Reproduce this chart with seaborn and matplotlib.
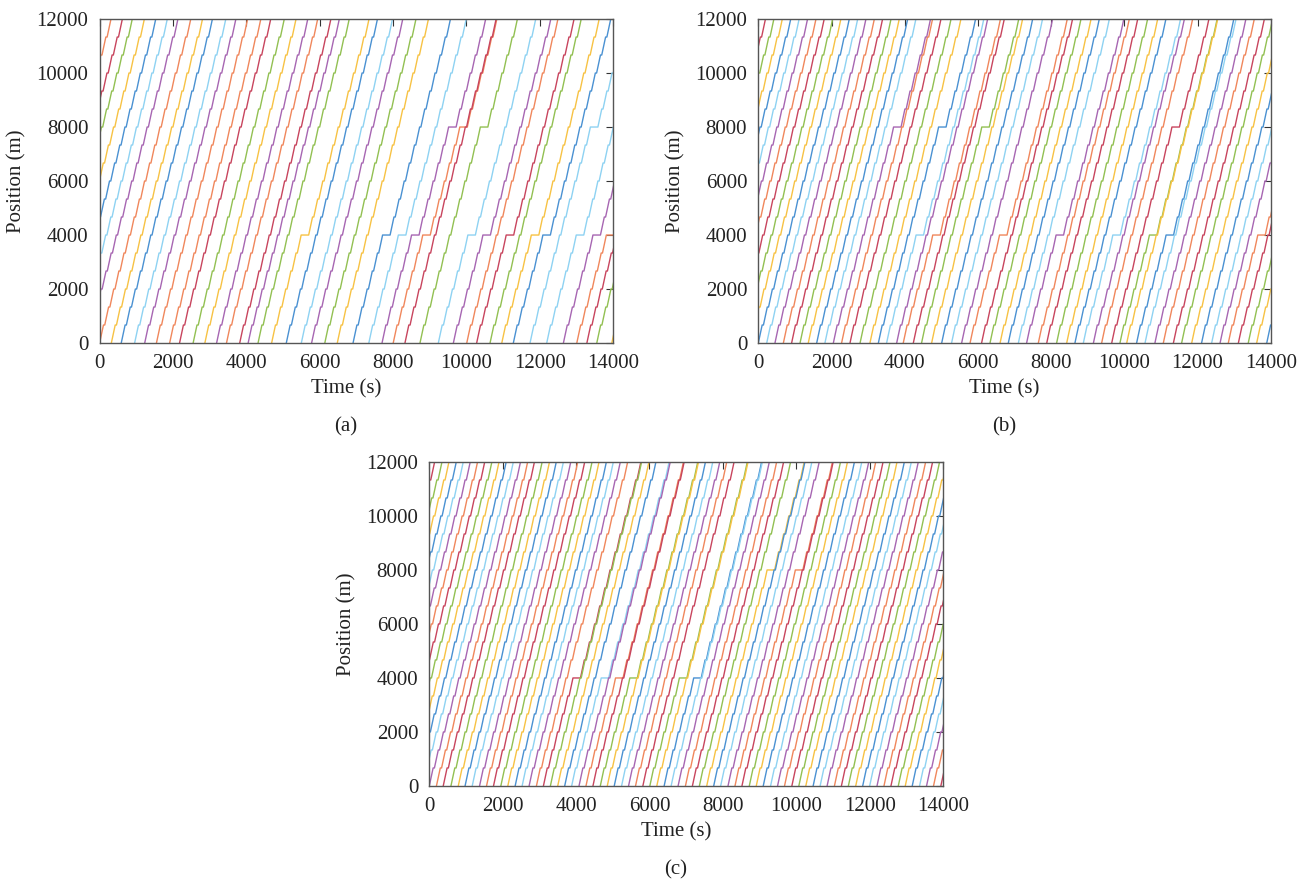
import pandas as pd
import matplotlib
matplotlib.use("Agg")
import matplotlib.pyplot as plt
import seaborn as sns

# stations along the line (m) and a common running profile (s)
STATIONS = [0, 667, 1333, 2000, 2667, 3333, 4000, 4667, 5333, 6000, 6667,
            7333, 8000, 8667, 9333, 10000, 10667, 11333, 12000]
RUN_TIME = 105
DWELL = 35
HOLD = 170

COLORS = {'o': '#f0875c', 'r': '#c8455e', 'g': '#92c052', 'y': '#f7c244',
          'b': '#4a91d2', 'c': '#8ed2f2', 'p': '#a766b2'}
CYCLE = 'orgybcp'

# panel (a): departure times (s) and colour codes
DEP_A = [-2175, -1865, -1595, -1265, -955, -640, -350,
         0, 320, 590, 955, 1230, 1550, 1910, 2180, 2550, 2870, 3190, 3460,
         3820, 4050, 4320, 4690, 5090, 5500, 5780, 6140, 6480, 6910, 7340,
         7700, 8005, 8325, 8735, 9235, 9645, 10010, 10280, 10645, 10965,
         11280, 11735, 12190, 12645, 13010, 13285, 13555, 13965]
COL_A = 'orgybcp' + 'oybcpoorgyporpgybcpgybcporgcporgybccporgyb'
HOLD4_A = [4690, 6910, 7340, 7700, 8005, 9235, 9645, 10280, 10965, 11280,
           12190, 12645, 13010]
HOLD8_A = [7700, 8005, 8735, 11735]

# panel (b)
DEP_B = [-2520, -2290, -2060, -1830, -1600, -1370, -1140, -910, -685, -455, -230,
         0, 230, 455, 685, 910, 1140, 1365, 1595, 1820, 2050, 2275, 2505,
         2780, 3050, 3280, 3505, 3780, 3960, 4235, 4460, 4735, 5010, 5280,
         5555, 5785, 6100, 6330, 6605, 6830, 7105, 7330, 7650, 7880, 8150,
         8425, 8650, 8880, 9155, 9380, 9655, 9880, 10065, 10335, 10565,
         10835, 11065, 11340, 11565, 11840, 12110, 12385, 12615, 12840,
         13115, 13385, 13615, 13890]
HOLD4_B = [3505, 3960, 5785, 7330, 8880, 9880, 10335, 12840]
HOLD8_B = [2050, 3280, 4460, 9655]

# panel (c)
DEP_C = [-2530, -2340, -2140, -1950, -1750, -1560, -1370, -1170, -975, -780,
         -585, -390, -195,
         0, 195, 380, 590, 790, 975, 1170, 1370, 1560, 1750, 1950, 2140,
         2340, 2530, 2720, 2920, 3110, 3300, 3500, 3690, 3880, 4080, 4270,
         4460, 4660, 4850, 5040, 5240, 5430, 5620, 5820, 6010, 6200, 6400,
         6590, 6780, 6980, 7170, 7360, 7560, 7750, 7940, 8140, 8330, 8520,
         8720, 8910, 9100, 9300, 9490, 9680, 9880, 10070, 10260, 10460,
         10650, 10840, 11040, 11230, 11420, 11620, 11810, 12000, 12200,
         12390, 12580, 12780, 12970, 13160, 13360, 13550, 13740, 13940]
HOLD4_C = [3110, 3880, 4270, 4660, 6010, 6400]
HOLD8_C = [7560, 8330]


def trajectories(deps, hold4, hold8, codes=None):
    rows = []
    palette = {}
    for k, dep in enumerate(deps):
        name = f"T{k:03d}"
        code = codes[k] if codes else CYCLE[k % len(CYCLE)]
        palette[name] = COLORS[code]
        t = dep
        rows.append((name, t, STATIONS[0]))
        for i in range(1, len(STATIONS)):
            t += RUN_TIME
            rows.append((name, t, STATIONS[i]))
            if i < len(STATIONS) - 1:
                extra = 0
                if STATIONS[i] == 4000 and dep in hold4:
                    extra = HOLD
                if STATIONS[i] == 8000 and dep in hold8:
                    extra = HOLD
                t += DWELL + extra
                rows.append((name, t, STATIONS[i]))
    df = pd.DataFrame(rows, columns=['train', 'time', 'position'])
    return df, palette


def draw_panel(ax, df, palette, tag):
    sns.lineplot(data=df, x='time', y='position', hue='train', palette=palette,
                 estimator=None, sort=False, legend=False, lw=1.0, ax=ax)
    ax.set_xlim(0, 14000)
    ax.set_ylim(0, 12000)
    ax.set_xticks(range(0, 14001, 2000))
    ax.set_yticks(range(0, 12001, 2000))
    ax.tick_params(direction='in', length=5, width=0.8, top=True, right=True,
                   colors='#333333', labelcolor='#222222', labelsize=15, pad=8)
    for s in ax.spines.values():
        s.set_visible(True)
        s.set_color('#555555')
        s.set_linewidth(1.0)
    ax.set_xlabel('Time (s)', fontsize=15, color='#222222')
    ax.set_ylabel('Position (m)', fontsize=15, color='#222222')
    ax.xaxis.set_label_coords(0.48, -0.112)
    ax.yaxis.set_label_coords(-0.142, 0.5)
    ax.text(0.48, -0.26, tag, transform=ax.transAxes, ha='center', va='center',
            fontsize=15, color='#222222')


sns.set_style('white')
plt.rcParams['font.family'] = ['Liberation Serif', 'DejaVu Serif']

fig = plt.figure(figsize=(13.14, 8.85), dpi=100)
ax_a = fig.add_axes([0.0758, 0.6124, 0.3908, 0.3661])
ax_b = fig.add_axes([0.5771, 0.6124, 0.3900, 0.3661])
ax_c = fig.add_axes([0.3267, 0.1119, 0.3910, 0.3661])

df_a, pal_a = trajectories(DEP_A, HOLD4_A, HOLD8_A, COL_A)
df_b, pal_b = trajectories(DEP_B, HOLD4_B, HOLD8_B)
df_c, pal_c = trajectories(DEP_C, HOLD4_C, HOLD8_C)

draw_panel(ax_a, df_a, pal_a, '(a)')
draw_panel(ax_b, df_b, pal_b, '(b)')
draw_panel(ax_c, df_c, pal_c, '(c)')

fig.savefig('out.png', dpi=100)
